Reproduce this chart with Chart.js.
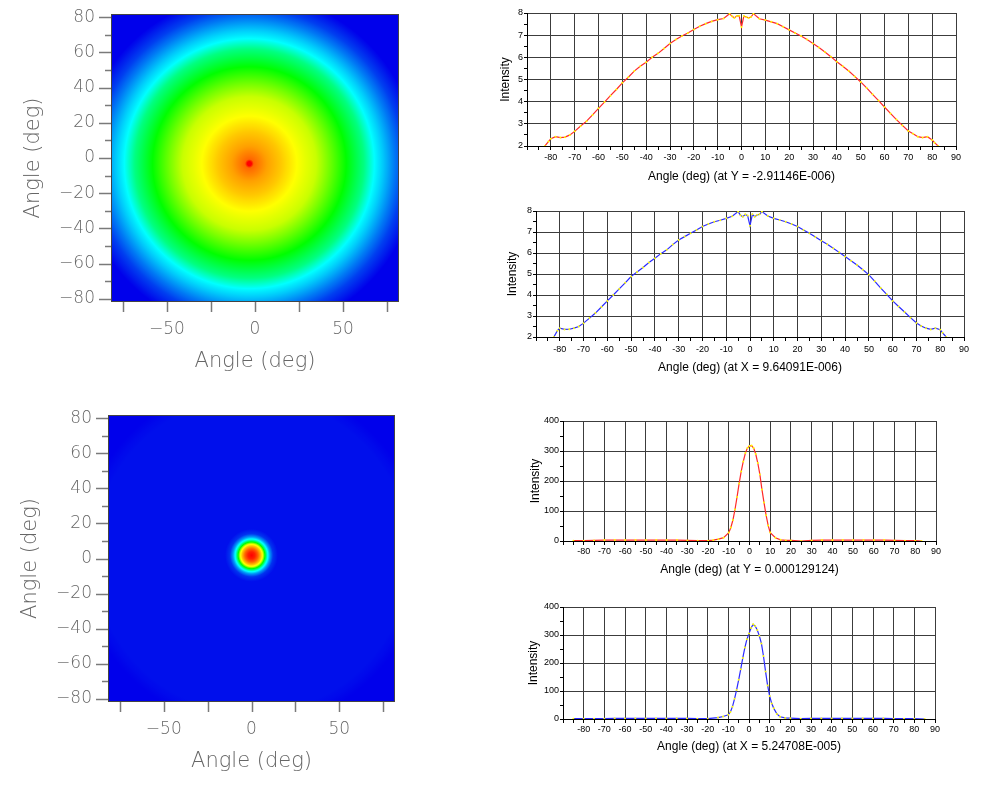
<!DOCTYPE html>
<html><head><meta charset="utf-8">
<script src="https://cdn.jsdelivr.net/npm/chart.js@4.4.0/dist/chart.umd.min.js"></script>
<style>
html,body{margin:0;padding:0;background:#fff;width:1002px;height:793px;overflow:hidden;}
.box{position:absolute;}
canvas{display:block;}
</style></head><body>
<div class="box" style="left:0;top:0;width:480px;height:385px"><canvas id="map1"></canvas></div>
<div class="box" style="left:0;top:395px;width:480px;height:398px"><canvas id="map2"></canvas></div>
<div class="box" style="left:480px;top:0;width:522px;height:190px"><canvas id="line1"></canvas></div>
<div class="box" style="left:480px;top:190px;width:522px;height:200px"><canvas id="line2"></canvas></div>
<div class="box" style="left:480px;top:395px;width:522px;height:195px"><canvas id="line3"></canvas></div>
<div class="box" style="left:480px;top:590px;width:522px;height:203px"><canvas id="line4"></canvas></div>
<script>
// ---------- DATA ----------
// Map 1 (broad distribution): radial level profile around its centre
const map1Center = [-3.2, -3.2];
const map1Radii  = [0, 1.2, 2.5, 10, 18, 27, 38, 45, 55, 65, 71, 76, 82, 88, 96];
const map1Levels = [1.0, 1.0, 0.9, 0.843, 0.804, 0.75, 0.696, 0.618, 0.5, 0.375, 0.25, 0.196, 0.125, 0.06, 0.0];
// Map 2 (narrow peak)
const map2Center = [0, 1.8];
const map2Radii  = [0, 2, 3.8, 5.5, 6.5, 7.6, 9, 10.5, 12.3, 15, 90, 98];
const map2Levels = [1.0, 0.97, 0.9, 0.8, 0.72, 0.5, 0.28, 0.15, 0.05, 0.015, 0.015, 0.0];

// Line 1: cut at Y = -2.91146E-006
const line1Angles = [-82.5,-81,-80,-78,-76,-74,-72,-70,-67.5,-65,-62.5,-60,-57.5,-55,-52.5,-50,-47.5,-45,-42.5,-40,-37.5,-35,-32.5,-30,-27.5,-25,-22.5,-20,-17.5,-15,-12.5,-10,-7.5,-5,-4,-3,-2,-1,0,1,2,3,4,5,7.5,10,12.5,15,17.5,20,22.5,25,27.5,30,32.5,35,37.5,40,42.5,45,47.5,50,52.5,55,57.5,60,62.5,65,67.5,70,72,74,76,78,80,81,82.5];
const line1Values = [2.0,2.2,2.33,2.42,2.38,2.4,2.5,2.66,2.9,3.12,3.4,3.7,3.98,4.27,4.55,4.85,5.1,5.38,5.6,5.78,6.0,6.18,6.4,6.62,6.8,6.96,7.1,7.26,7.4,7.52,7.62,7.7,7.75,7.97,7.85,7.78,7.86,7.88,7.37,7.86,7.82,7.78,7.82,7.97,7.74,7.68,7.6,7.52,7.38,7.24,7.1,6.96,6.8,6.62,6.44,6.24,6.03,5.8,5.6,5.38,5.14,4.89,4.62,4.33,4.05,3.76,3.47,3.19,2.93,2.68,2.55,2.42,2.38,2.42,2.27,2.15,2.0];
// Line 2: cut at X = 9.64091E-006
const line2Angles = [-82.5,-81,-80,-78,-76,-74,-72,-70,-67.5,-65,-62.5,-60,-57.5,-55,-52.5,-50,-47.5,-45,-42.5,-40,-37.5,-35,-32.5,-30,-27.5,-25,-22.5,-20,-17.5,-15,-12.5,-10,-7.5,-5,-4,-3,-2,-1,0,1,2,3,4,5,7.5,10,12.5,15,17.5,20,22.5,25,27.5,30,32.5,35,37.5,40,42.5,45,47.5,50,52.5,55,57.5,60,62.5,65,67.5,70,72,74,76,78,80,81,82.5];
const line2Values = [2.0,2.3,2.42,2.36,2.37,2.42,2.5,2.66,2.9,3.14,3.43,3.72,4.0,4.29,4.58,4.88,5.1,5.31,5.55,5.75,5.97,6.15,6.4,6.62,6.78,6.94,7.1,7.26,7.38,7.49,7.56,7.65,7.75,7.97,7.8,7.73,7.84,7.78,7.3,7.84,7.73,7.81,7.84,7.97,7.76,7.65,7.57,7.49,7.38,7.26,7.1,6.94,6.76,6.58,6.42,6.23,6.03,5.83,5.63,5.43,5.2,4.96,4.65,4.33,4.03,3.72,3.45,3.19,2.92,2.67,2.52,2.42,2.36,2.42,2.35,2.2,2.0];
// Line 3: cut at Y = 0.000129124
const line3Angles = [-85,-80,-75,-70,-65,-60,-55,-50,-45,-40,-35,-30,-25,-20,-17.5,-15,-12.5,-10,-9,-8,-7,-6,-5,-4,-3,-2,-1,0,1,2,3,4,5,6,7,8,9,10,12.5,15,17.5,20,25,30,35,40,45,50,55,60,65,70,75,80,83];
const line3Values = [1,1,2,3,3,3,3,3,3,3,3,2,1,1,3,6,11,28,45,70,105,147,192,232,265,293,310,317,318,310,290,260,222,172,128,86,52,28,11,4,2,2,0,2,3,3,3,3,3,3,3,2,1,1,0];
// Line 4: cut at X = 5.24708E-005
const line4Angles = [-85,-80,-75,-70,-65,-60,-55,-50,-45,-40,-35,-30,-25,-20,-15,-12.5,-10,-9,-8,-7,-6,-5,-4,-3,-2,-1,0,1,2,3,4,5,6,7,8,9,10,11,12,13.5,15,17.5,20,25,30,35,40,45,50,55,60,65,70,75,80,85];
const line4Values = [1,1,1,1,2,2,2,2,2,2,2,2,1,1,5,9,15,25,44,72,104,140,178,218,255,285,305,325,338,332,318,297,270,225,170,120,82,55,38,18,8,4,3,1,2,2,2,2,2,2,2,2,1,1,1,0];

// ---------- STYLE HELPERS ----------
const colorStops = [[0,[0,0,235]],[0.25,[0,255,255]],[0.5,[0,255,0]],[0.75,[255,255,0]],[1,[255,0,0]]];
function levelColor(l){
  l = Math.max(0, Math.min(1, l));
  for (let i=1;i<colorStops.length;i++){
    const [p1,c1] = colorStops[i-1], [p2,c2] = colorStops[i];
    if (l <= p2){
      const t = (l-p1)/(p2-p1);
      const c = c1.map((v,k)=>Math.round(v+(c2[k]-v)*t));
      return `rgb(${c[0]},${c[1]},${c[2]})`;
    }
  }
  return 'rgb(255,0,0)';
}
const isMult = (v, m) => Math.abs(v/m - Math.round(v/m)) < 1e-6;
const fmtMinus = v => (v < 0 ? '\u2212' : '') + Math.abs(v);

const heatPlugin = {
  id: 'heat',
  beforeDatasetsDraw(chart, args, o) {
    const {ctx, chartArea: a, scales: {x, y}} = chart;
    const cx = x.getPixelForValue(o.center[0]), cy = y.getPixelForValue(o.center[1]);
    const ppd = Math.abs(x.getPixelForValue(1) - x.getPixelForValue(0));
    const rMax = o.radii[o.radii.length-1];
    const g = ctx.createRadialGradient(cx, cy, 0, cx, cy, rMax*ppd);
    for (let i=0;i<o.radii.length;i++){
      if (i>0){
        for (let s=1;s<8;s++){
          const t = s/8;
          const r = o.radii[i-1] + (o.radii[i]-o.radii[i-1])*t;
          const l = o.levels[i-1] + (o.levels[i]-o.levels[i-1])*t;
          g.addColorStop(r/rMax, levelColor(l));
        }
      }
      g.addColorStop(o.radii[i]/rMax, levelColor(o.levels[i]));
    }
    ctx.save();
    ctx.beginPath(); ctx.rect(a.left, a.top, a.right-a.left, a.bottom-a.top); ctx.clip();
    ctx.fillStyle = levelColor(0);
    ctx.fillRect(a.left, a.top, a.right-a.left, a.bottom-a.top);
    ctx.fillStyle = g;
    ctx.fillRect(a.left, a.top, a.right-a.left, a.bottom-a.top);
    ctx.restore();
  },
  afterDraw(chart, args, o) {
    const {ctx, chartArea: a, scales: {x, y}} = chart;
    ctx.save();
    ctx.strokeStyle = '#7a7a7a'; ctx.lineWidth = 1.5;
    x.ticks.forEach(t => {
      if (!isMult(t.value, o.xStep)) return;
      const px = Math.round(x.getPixelForValue(t.value)) + 0.5;
      ctx.beginPath(); ctx.moveTo(px, a.bottom); ctx.lineTo(px, a.bottom + 10); ctx.stroke();
    });
    y.ticks.forEach(t => {
      if (!isMult(t.value, o.yStep)) return;
      const py = Math.round(y.getPixelForValue(t.value)) + 0.5;
      const len = isMult(t.value, o.yMajor) ? 12 : 6;
      ctx.beginPath(); ctx.moveTo(a.left, py); ctx.lineTo(a.left - len, py); ctx.stroke();
    });
    ctx.strokeStyle = '#444'; ctx.lineWidth = 1;
    ctx.strokeRect(Math.round(a.left)+0.5, Math.round(a.top)+0.5, Math.round(a.right-a.left)-1, Math.round(a.bottom-a.top)-1);
    ctx.restore();
  }
};

const mapFont = {family: '"DejaVu Sans", sans-serif', size: 17, weight: '300'};
const mapTitleFont = {family: '"DejaVu Sans", sans-serif', size: 21, weight: '300'};
function mapChart(id, center, radii, levels, L) {
  return new Chart(document.getElementById(id), {
    type: 'scatter',
    data: {datasets: [{data: [{x: center[0], y: center[1]}], pointRadius: 0}]},
    plugins: [heatPlugin],
    options: {
      responsive: true, maintainAspectRatio: false, animation: false,
      layout: {padding: {left: 0, top: L.top, right: L.right, bottom: 0}},
      plugins: {legend: {display: false}, tooltip: {enabled: false},
        heat: {center, radii, levels, xStep: 25, yStep: 10, yMajor: 20}},
      scales: {
        x: {type: 'linear', min: -81.8, max: 81.8, afterFit: s => { s.height = L.xh; },
          grid: {display: false, drawTicks: true, tickLength: 17}, border: {display: false},
          ticks: {stepSize: 25, includeBounds: false, autoSkip: false, maxRotation: 0, padding: 0,
            color: '#666', font: mapFont, callback: v => isMult(v, 50) ? fmtMinus(v) : ''},
          title: {display: true, text: 'Angle (deg)', color: '#666', font: mapTitleFont, padding: {top: 0, bottom: L.xtpad}}},
        y: {type: 'linear', min: -81.8, max: 81.8, afterFit: s => { s.width = L.yw; },
          grid: {display: false, drawTicks: true, tickLength: 16}, border: {display: false},
          ticks: {stepSize: 10, includeBounds: false, autoSkip: false, padding: 0,
            color: '#666', font: mapFont, callback: v => isMult(v, 20) ? fmtMinus(v) : ''},
          title: {display: true, text: 'Angle (deg)', color: '#666', font: mapTitleFont, padding: {top: L.ytpad, bottom: 0}}}
      }
    }
  });
}

const lineFont = {family: '"Liberation Sans", Arial, sans-serif', size: 9};
const lineTitleFont = {family: '"Liberation Sans", Arial, sans-serif', size: 12};
function lineChart(id, xs, ys, L) {
  const pts = xs.map((x, i) => ({x, y: ys[i]}));
  return new Chart(document.getElementById(id), {
    type: 'line',
    data: {datasets: [{data: pts, borderColor: L.color, borderWidth: 1.2, tension: 0,
      pointRadius: 1, pointBackgroundColor: '#ffff00', pointBorderWidth: 0}]},
    options: {
      responsive: true, maintainAspectRatio: false, animation: false,
      layout: {padding: {left: 0, top: L.top, right: L.right, bottom: 0}},
      plugins: {legend: {display: false}, tooltip: {enabled: false}},
      scales: {
        x: {type: 'linear', min: -90, max: 90, afterFit: s => { s.height = L.xh; },
          ticks: {stepSize: 5, autoSkip: false, maxRotation: 0, padding: L.xpad, color: '#000', font: lineFont,
            callback: v => (isMult(v, 10) && v > -90) ? String(v) : ''},
          grid: {color: c => (c.tick && isMult(c.tick.value, 10)) ? '#3c3c3c' : 'rgba(0,0,0,0)',
            tickColor: '#000', tickLength: 4, lineWidth: 1},
          border: {color: '#000'},
          title: {display: true, text: L.xtitle, color: '#000', font: lineTitleFont, padding: {top: 0, bottom: L.xtpad}}},
        y: {type: 'linear', min: L.ymin, max: L.ymax, afterFit: s => { s.width = L.yw; },
          ticks: {stepSize: L.ystep, autoSkip: false, padding: 1, color: '#000', font: lineFont,
            callback: v => isMult(v, L.ymajor) ? String(v) : ''},
          grid: {color: c => (c.tick && isMult(c.tick.value, L.ymajor)) ? '#3c3c3c' : 'rgba(0,0,0,0)',
            tickColor: '#000', tickLength: 3, lineWidth: 1},
          border: {color: '#000'},
          title: {display: true, text: 'Intensity', color: '#000', font: lineTitleFont, padding: {top: L.ytpad, bottom: 0}}}
      }
    }
  });
}

mapChart('map1', map1Center, map1Radii, map1Levels, {top: 14, right: 81, xh: 83, yw: 111, xtpad: 11, ytpad: 21});
mapChart('map2', map2Center, map2Radii, map2Levels, {top: 20, right: 85, xh: 91, yw: 108, xtpad: 19, ytpad: 18});

lineChart('line1', line1Angles, line1Values, {color: '#ff2a2a', xtitle: 'Angle (deg) (at Y = -2.91146E-006)',
  ymin: 2, ymax: 8, ystep: 0.5, ymajor: 1, yw: 47, top: 13, right: 46, xh: 44, xpad: 2, xtpad: 6, ytpad: 18});
lineChart('line2', line2Angles, line2Values, {color: '#2a2aff', xtitle: 'Angle (deg) (at X = 9.64091E-006)',
  ymin: 2, ymax: 8, ystep: 0.5, ymajor: 1, yw: 56, top: 21, right: 38, xh: 53, xpad: 3, xtpad: 15, ytpad: 25});
lineChart('line3', line3Angles, line3Values, {color: '#ff2a2a', xtitle: 'Angle (deg) (at Y = 0.000129124)',
  ymin: 0, ymax: 400, ystep: 50, ymajor: 100, yw: 83, top: 26, right: 66, xh: 49, xpad: 1, xtpad: 13, ytpad: 48});
lineChart('line4', line4Angles, line4Values, {color: '#2a2aff', xtitle: 'Angle (deg) (at X = 5.24708E-005)',
  ymin: 0, ymax: 400, ystep: 50, ymajor: 100, yw: 83, top: 17, right: 67, xh: 74, xpad: 1, xtpad: 39, ytpad: 46});
</script>
</body></html>
